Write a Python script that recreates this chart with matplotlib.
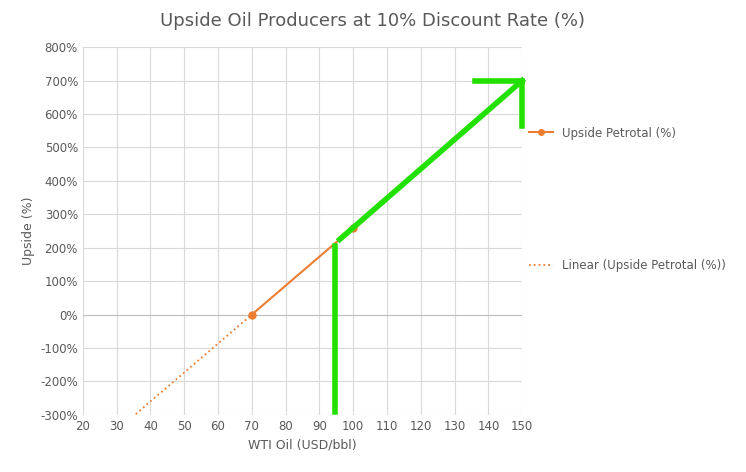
import matplotlib
matplotlib.use("Agg")
import matplotlib.pyplot as plt
from matplotlib.lines import Line2D

wti = [70, 100]
upside = [0, 260]
trend_x = [34.6, 70]
green_vertical_x = [94.5, 94.5]
green_vertical_y = [-290, 205]
green_diag_x = [96, 150]
green_diag_y = [225, 700]
green_head1_x = [136, 150]
green_head1_y = [700, 700]
green_head2_x = [150, 150]
green_head2_y = [700, 565]

orange = "#ED7D31"
green = "#22E000"
fig = plt.figure(figsize=(7.46, 4.72), dpi=100)
ax = fig.add_axes([0.111, 0.121, 0.589, 0.779])
ax.plot(wti, upside, color=orange, marker="o", markersize=5, lw=1.5, zorder=3)
slope = (upside[1] - upside[0]) / (wti[1] - wti[0])
ty = [upside[0] + slope * (x - wti[0]) for x in trend_x]
ax.plot(trend_x, ty, color=orange, ls=":", lw=1.3, zorder=3)
for xs, ys in [(green_vertical_x, green_vertical_y), (green_diag_x, green_diag_y),
               (green_head1_x, green_head1_y), (green_head2_x, green_head2_y)]:
    ax.plot(xs, ys, color=green, lw=4, solid_capstyle="projecting", zorder=4, clip_on=False)
ax.set_xlim(20, 150)
ax.set_ylim(-300, 800)
ax.set_xticks(range(20, 151, 10))
ax.set_yticks(range(-300, 801, 100))
ax.set_yticklabels([f"{v}%" for v in range(-300, 801, 100)])
ax.grid(True, color="#D9D9D9", lw=0.8)
ax.axhline(0, color="#BFBFBF", lw=0.8)
for s in ax.spines.values():
    s.set_visible(False)
ax.tick_params(length=0, labelsize=8.5, colors="#595959")
ax.set_xlabel("WTI Oil (USD/bbl)", fontsize=9, color="#595959")
ax.set_ylabel("Upside (%)", fontsize=9, color="#595959")
fig.text(0.5, 0.955, "Upside Oil Producers at 10% Discount Rate (%)", ha="center",
         va="center", fontsize=13, color="#595959")
h1 = Line2D([], [], color=orange, marker="o", markersize=4, lw=1.5)
h2 = Line2D([], [], color=orange, ls=":", lw=1.3)
fig.legend([h1], ["Upside Petrotal (%)"], loc="center left", bbox_to_anchor=(0.695, 0.718),
           frameon=False, fontsize=8.5, labelcolor="#595959", handlelength=2)
fig.legend([h2], ["Linear (Upside Petrotal (%))"], loc="center left", bbox_to_anchor=(0.695, 0.438),
           frameon=False, fontsize=8.5, labelcolor="#595959", handlelength=2)
fig.savefig("out.png", dpi=100)
